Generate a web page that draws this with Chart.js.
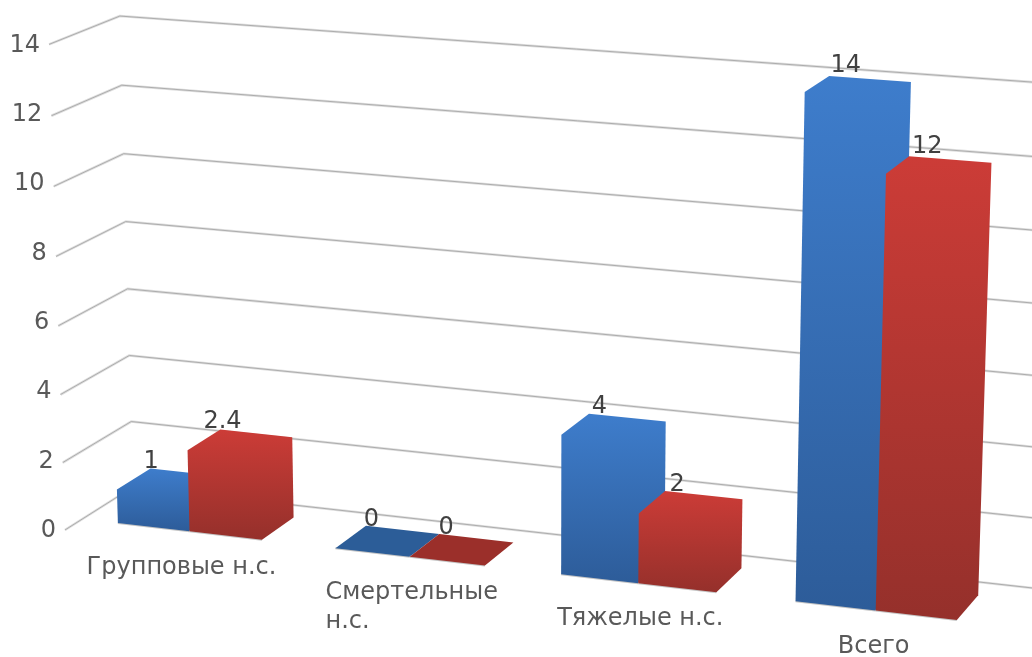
<!DOCTYPE html>
<html lang="ru">
<head>
  <meta charset="UTF-8" />
  <title>Несчастные случаи</title>
  <script src="https://cdn.jsdelivr.net/npm/chart.js"></script>
  <style>
    html, body { margin: 0; padding: 0; background: #fff; }
    canvas { display: block; }
  </style>
</head>
<body>
  <canvas id="accidentChart" width="1032" height="657"></canvas>

  <script>
    const categories = [['Групповые н.с.'], ['Смертельные', 'н.с.'], ['Тяжелые н.с.'], ['Всего']];
    const seriesA = [1, 0, 4, 14];
    const seriesB = [2.4, 0, 2, 12];
    const valueLabelsA = ['1', '0', '4', '14'];
    const valueLabelsB = ['2.4', '0', '2', '12'];
    const axisMax = 14;
    const axisStep = 2;

    const FONT = '24px "DejaVu Sans"';

    // perspective camera: origin of the floor plus three vanishing points
    const camera = {
      origin: [133, 487],
      vanishX: [-11650, -836],
      vanishY: [537, 15000],
      vanishZ: [2185, -810],
      kx: -0.01766,
      ky: -0.002245,
      kz: -0.0321
    };

    // u = category slots from the left wall, v = axis value, w = depth 0..1
    function project(u, v, w) {
      const c = camera;
      const a = c.kx * u, b = c.ky * v, d = c.kz * w;
      const den = 1 + a + b + d;
      return [
        (c.origin[0] + a * c.vanishX[0] + b * c.vanishY[0] + d * c.vanishZ[0]) / den,
        (c.origin[1] + a * c.vanishX[1] + b * c.vanishY[1] + d * c.vanishZ[1]) / den
      ];
    }

    function poly(ctx, pts) {
      ctx.beginPath();
      pts.forEach((p, i) => i ? ctx.lineTo(p[0], p[1]) : ctx.moveTo(p[0], p[1]));
    }

    const palette = [
      { top: '#3e7dcc', bottom: '#2d5c99', flat: '#2c5d98' },
      { top: '#cc3c37', bottom: '#95302b', flat: '#9b2f2a' }
    ];

    const depthFront = 0.75;
    const depthBack = 0.25;
    const labelDx = [-8, 2, 2, -2];

    const walls3d = {
      id: 'walls3d',
      beforeDatasetsDraw(chart) {
        const ctx = chart.ctx;
        const yScale = chart.scales.y;
        const slots = categories.length;
        const axisLow = project(0, 0, 1);
        const axisHigh = project(0, axisMax, 1);
        ctx.save();

        // gridlines on the side and back walls, tick text evenly spaced beside them
        yScale.ticks.forEach(t => {
          const a = project(0, t.value, 1);
          const b = project(0, t.value, 0);
          const c = project(slots + 0.1, t.value, 0);
          poly(ctx, [a, b, c]);
          ctx.strokeStyle = '#dedede';
          ctx.lineWidth = 2.6;
          ctx.lineJoin = 'round';
          ctx.stroke();
          ctx.strokeStyle = '#adadad';
          ctx.lineWidth = 1;
          ctx.stroke();

          const f = t.value / axisMax;
          ctx.font = FONT;
          ctx.fillStyle = '#595959';
          ctx.textAlign = 'right';
          ctx.textBaseline = 'middle';
          ctx.fillText(
            String(t.value),
            axisLow[0] + (axisHigh[0] - axisLow[0]) * f - 9,
            axisLow[1] + (axisHigh[1] - axisLow[1]) * f + 1
          );
        });

        const area = chart.chartArea;
        const toU = px => (px - area.left) / area.width * slots;
        const metaA = chart.getDatasetMeta(0).data;
        const metaB = chart.getDatasetMeta(1).data;

        // boxes are painted left to right so nearer ones overlap correctly
        const valueText = [];
        categories.forEach((lines, i) => {
          [metaA[i], metaB[i]].forEach((bar, s) => {
            const u0 = toU(bar.x - bar.width / 2);
            const u1 = toU(bar.x + bar.width / 2);
            const v = yScale.getValueForPixel(bar.y);
            const outline = [
              project(u0, 0, depthFront),
              project(u0, v, depthFront),
              project(u0, v, depthBack),
              project(u1, v, depthBack),
              project(u1, 0, depthBack),
              project(u1, 0, depthFront)
            ];

            // faint contact shadow along the lower front edge
            poly(ctx, [outline[0], outline[5]]);
            ctx.strokeStyle = '#c4c4c4';
            ctx.lineWidth = 2;
            ctx.stroke();

            const col = palette[s];
            if (v === 0) {
              ctx.fillStyle = col.flat;
            } else {
              const ys = outline.map(p => p[1]);
              const g = ctx.createLinearGradient(0, Math.min(...ys), 0, Math.max(...ys));
              g.addColorStop(0, col.top);
              g.addColorStop(1, col.bottom);
              ctx.fillStyle = g;
            }
            poly(ctx, outline);
            ctx.closePath();
            ctx.fill();

            const mid = project((u0 + u1) / 2, v, 0.5);
            const text = (s === 0 ? valueLabelsA : valueLabelsB)[i];
            valueText.push([text, mid[0] - 19 + 2 * (u0 + u1) / 2, mid[1] - 21.5]);
          });
        });

        ctx.font = FONT;
        ctx.fillStyle = '#404040';
        ctx.textAlign = 'center';
        ctx.textBaseline = 'middle';
        valueText.forEach(t => ctx.fillText(t[0], t[1], t[2]));

        // category captions below the boxes
        ctx.fillStyle = '#595959';
        ctx.textAlign = 'left';
        categories.forEach((lines, i) => {
          const p = project(toU(chart.scales.x.getPixelForValue(i)), 0, depthFront);
          const widest = Math.max(...lines.map(l => ctx.measureText(l).width));
          lines.forEach((l, n) => {
            ctx.fillText(l, p[0] + labelDx[i] - widest / 2, p[1] + 36 + n * 29);
          });
        });

        ctx.restore();
        return false; // the flat rectangles are replaced by the boxes above
      }
    };

    new Chart(document.getElementById('accidentChart'), {
      type: 'bar',
      data: {
        labels: categories,
        datasets: [
          { label: 'Ряд 1', data: seriesA, categoryPercentage: 2 / 3, barPercentage: 1 },
          { label: 'Ряд 2', data: seriesB, categoryPercentage: 2 / 3, barPercentage: 1 }
        ]
      },
      options: {
        responsive: false,
        animation: false,
        layout: { padding: 0 },
        scales: {
          x: { display: false },
          y: { display: false, min: 0, max: axisMax, ticks: { stepSize: axisStep } }
        },
        plugins: {
          legend: { display: false },
          tooltip: { enabled: false }
        }
      },
      plugins: [walls3d]
    });
  </script>
</body>
</html>
